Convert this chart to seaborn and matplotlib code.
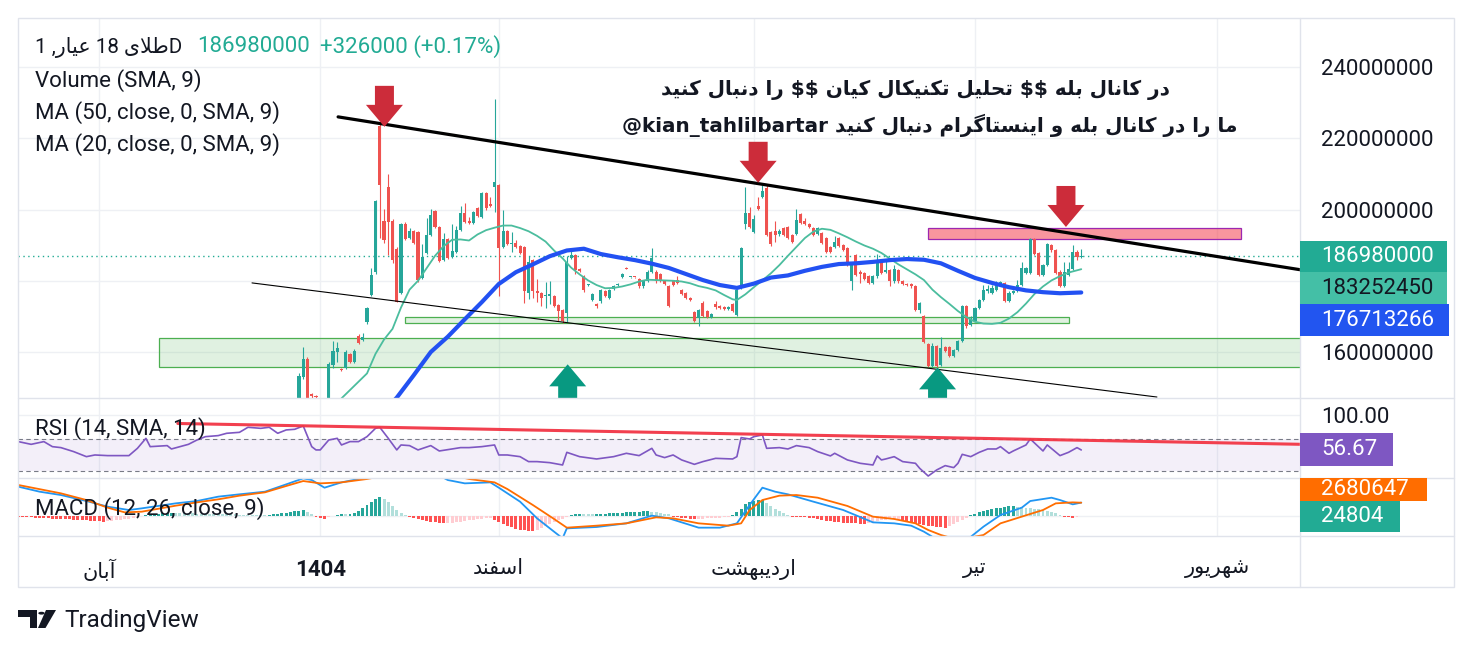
import numpy as np
import pandas as pd
import matplotlib
matplotlib.use("Agg")
import matplotlib.pyplot as plt
import seaborn as sns
from matplotlib.patches import Rectangle, Polygon, Circle
from matplotlib.lines import Line2D
from matplotlib.transforms import IdentityTransform, Bbox

# ------------------------------------------------------------------ data
# daily candles (values in millions), bar index 0 .. 184
opens = [145.0,153.1,158.1,148.2,147.8,147.0,145.0,144.5,156.4,160.1,
         155.2,155.5,159.4,157.3,164.6,163.4,168.3,176.0,182.5,223.3,
         196.8,206.3,196.8,189.0,176.6,196.0,192.0,194.0,193.7,180.8,
         187.8,192.9,199.6,195.1,185.9,191.8,186.7,188.1,194.3,199.1,
         196.8,196.3,200.4,197.9,204.7,201.6,206.3,206.9,189.4,194.0,
         190.4,190.7,189.8,189.4,176.7,185.9,177.2,176.5,175.6,175.8,
         175.8,173.2,171.8,171.0,186.5,187.1,183.3,181.2,178.8,174.5,
         173.5,174.2,177.0,175.3,177.7,178.8,181.0,183.7,181.0,181.0,
         180.5,178.4,180.0,182.6,182.6,181.9,180.0,178.6,179.8,180.3,
         177.5,176.5,175.1,171.1,169.5,173.9,171.5,169.8,173.5,172.8,
         172.6,172.1,173.4,170.4,177.9,196.0,199.1,193.8,201.0,203.6,
         206.0,193.8,194.0,193.0,194.8,195.2,192.9,193.2,198.8,196.8,
         195.9,194.8,193.2,193.4,192.0,189.4,189.6,192.0,190.1,189.1,
         179.8,187.3,182.6,182.1,181.4,179.5,181.2,185.9,182.4,183.0,
         179.8,183.0,180.0,179.1,179.1,178.6,171.8,170.0,162.3,156.0,
         161.7,156.4,161.5,161.5,158.9,160.6,163.2,173.0,167.6,168.8,
         172.3,174.6,177.0,176.7,177.3,179.1,179.3,174.4,176.5,177.2,
         178.9,182.1,182.3,191.7,187.9,181.7,184.5,190.1,188.7,182.6,
         178.6,181.7,183.3,188.2,186.654]
highs = [154.0,161.3,158.6,148.6,148.0,147.2,146.0,157.2,163.0,162.7,
         155.6,160.6,159.8,160.8,165.0,165.3,172.6,183.6,202.7,224.3,
         200.2,210.0,197.2,189.4,196.3,196.4,194.8,194.3,194.0,190.4,
         197.6,200.2,199.9,195.4,193.5,192.1,196.0,195.5,201.0,201.9,
         197.8,199.6,200.7,205.0,205.0,203.5,231.0,207.2,199.9,194.3,
         193.7,191.5,190.1,189.7,187.0,186.2,180.4,176.8,179.6,179.9,
         176.1,173.5,172.1,187.0,189.1,187.4,183.6,181.5,179.0,176.6,
         173.8,177.6,177.3,177.8,178.9,179.3,182.2,183.9,181.1,181.1,
         180.8,180.3,182.9,189.3,182.9,182.2,180.3,178.9,180.1,181.2,
         177.8,176.8,175.4,171.4,172.1,174.2,171.8,171.0,174.3,173.1,
         172.9,172.9,173.7,177.8,189.4,206.4,200.6,198.5,203.6,206.9,
         206.9,194.1,196.9,194.4,195.1,195.5,193.2,200.1,199.1,197.6,
         196.2,195.1,195.1,193.7,192.3,189.7,192.6,192.3,190.4,189.4,
         184.8,187.6,182.9,182.4,181.7,181.5,187.6,186.2,185.9,183.3,
         184.5,183.3,180.3,179.4,179.4,178.9,174.0,170.3,162.6,162.5,
         162.0,164.2,161.8,161.8,160.9,163.5,173.3,173.3,170.0,172.6,
         174.9,178.8,178.8,178.8,179.9,179.9,179.6,177.0,177.3,180.1,
         185.2,183.8,192.0,192.0,188.2,184.8,190.7,190.4,189.0,182.9,
         185.4,185.4,190.1,188.5,188.9]
lows = [143.5,152.5,144.0,147.0,146.8,144.5,143.8,144.0,155.5,157.3,
        154.6,155.3,157.0,157.0,162.2,163.0,168.0,175.8,182.0,192.0,
        190.5,187.3,185.0,174.0,176.3,191.5,191.8,190.3,179.7,180.5,
        187.5,192.6,194.8,185.3,185.6,186.1,186.4,187.8,194.0,196.2,
        195.8,196.0,197.9,197.6,199.8,200.7,199.3,175.6,189.1,190.1,
        188.2,189.3,187.4,173.9,175.0,175.3,174.0,173.0,172.3,173.4,
        172.7,168.8,168.2,168.5,186.2,181.9,182.4,176.9,178.6,174.2,
        172.4,173.9,175.5,175.0,177.4,178.6,180.8,183.2,180.9,180.9,
        178.1,178.1,179.7,182.3,179.5,179.7,178.8,172.6,178.4,179.1,
        175.9,174.8,174.3,168.3,167.2,169.7,169.5,169.5,172.2,172.0,
        171.8,171.8,171.1,170.1,177.6,194.6,194.9,193.5,199.8,203.3,
        192.6,189.8,191.0,192.7,192.6,191.7,190.7,192.9,195.9,195.7,
        194.8,192.6,192.9,190.3,187.7,187.8,189.3,189.5,188.4,184.2,
        177.3,181.4,179.5,180.2,179.0,179.2,180.9,181.8,182.1,178.5,
        179.5,179.5,178.8,178.4,178.1,171.5,171.0,162.4,155.8,155.7,
        155.5,156.1,160.1,158.6,158.6,160.3,162.9,166.8,167.3,168.5,
        172.0,174.3,176.7,176.4,177.0,178.8,174.1,174.1,176.2,176.9,
        178.6,181.8,182.0,187.2,181.4,181.4,184.2,188.2,182.0,178.3,
        178.3,181.4,183.0,185.8,186.3]
closes = [153.3,158.0,146.0,147.7,147.4,145.0,144.5,156.7,160.3,161.2,
          155.0,160.1,157.3,160.3,162.5,164.2,172.3,181.7,202.4,206.9,
          191.5,196.5,185.9,174.1,196.0,191.8,194.0,190.6,180.3,186.7,
          192.9,198.5,195.1,185.6,191.8,186.4,188.4,194.3,199.1,196.5,
          196.3,199.3,198.2,204.7,200.4,201.0,207.7,189.1,194.0,190.4,
          190.7,189.6,187.7,177.0,185.4,177.0,176.5,175.1,176.0,176.3,
          173.0,171.6,168.6,185.2,187.2,182.9,182.7,177.3,178.9,176.3,
          172.8,177.3,175.8,177.5,178.6,179.1,181.9,183.4,181.05,180.95,
          178.4,180.0,182.6,186.3,179.8,180.0,179.1,173.0,178.7,179.4,
          176.2,175.1,174.6,168.6,171.8,170.0,169.8,170.7,172.5,172.3,
          172.1,172.6,171.4,177.5,189.1,199.0,195.2,197.3,200.1,205.3,
          192.9,190.4,192.9,194.0,192.9,192.0,191.0,197.1,196.2,196.0,
          195.1,192.9,194.8,190.6,188.0,188.1,191.0,189.8,188.7,184.5,
          184.5,181.7,181.9,180.5,179.3,181.2,185.9,182.1,183.0,179.8,
          183.3,179.8,179.1,178.7,178.4,171.8,173.7,162.7,156.1,161.7,
          156.1,161.1,160.4,158.9,160.6,163.2,173.0,167.3,169.2,172.3,
          174.6,177.3,177.6,178.0,179.1,179.6,174.4,176.7,177.0,178.9,
          183.5,183.5,191.7,187.5,181.7,184.5,190.4,188.5,182.3,178.6,
          182.6,183.3,188.2,186.654,186.98]

# moving averages (bar index, value in millions)
ma50_bars = [17,20,23,27,31,35,39,43,47,51,55,59,63,67,71,75,79,83,87,91,
             95,99,103,107,111,115,119,123,127,131,135,139,143,147,151,155,159,163,167,171,
             175,179,184]
ma50_vals = [139.5,143.5,147.2,153.5,160.0,164.3,169.2,174.0,179.1,182.4,
             184.6,186.9,188.5,189.0,187.5,186.6,185.8,184.8,183.6,181.9,
             180.2,178.8,178.0,179.2,180.9,181.5,182.8,183.9,184.7,184.9,
             185.3,185.8,186.1,185.9,184.9,182.8,180.8,179.4,178.2,177.3,
             176.8,176.5,176.713266]
ma20_bars = [7,10,13,16,18,20,22,24,26,28,30,32,34,36,38,40,42,44,46,48,
             50,52,54,56,58,60,62,64,66,68,70,72,74,76,78,80,82,84,86,88,
             90,92,94,96,98,100,102,103,105,107,109,111,113,115,117,119,121,123,
             125,127,129,131,133,135,137,139,141,143,145,147,149,151,153,155,157,159,161,163,
             165,167,169,171,173,175,177,179,181,184]
ma20_vals = [142.0,147.0,150.5,154.0,159.5,163.5,166.5,172.5,177.5,180.0,
             183.5,187.0,189.7,191.5,191.6,191.3,193.0,194.2,194.9,195.5,
             195.5,194.8,193.9,192.6,191.0,188.5,186.3,183.7,181.8,180.1,
             178.8,177.9,178.0,178.4,179.0,179.8,180.3,180.2,180.1,180.0,
             179.8,179.3,178.5,178.0,177.3,176.0,174.8,174.6,
             176.2,178.2,180.1,182.1,184.4,187.0,189.5,192.0,193.8,194.6,
             194.3,193.3,192.2,191.0,189.9,189.0,187.8,186.2,184.6,183.2,
             181.8,180.2,177.5,175.4,173.5,171.5,169.8,168.5,168.0,167.9,
             168.2,169.4,171.2,173.6,176.3,178.4,180.1,181.3,182.3,183.25245]

# RSI(14)
rsi_bars = [-66,-63,-60,-58,-56,-53,-50,-48,-45,-40,
            -38,-36,-35,-31,-30,-26,-24,-22,-19,-17,
            -14,-12,-9,-7,-5,-3,-1,1,3,4,
            5,7,9,10,12,14,16,18,19,21,
            23,24,26,28,31,33,36,38,40,43,
            46,47,49,52,54,56,59,62,63,66,
            70,74,77,80,83,84,86,88,90,93,
            95,98,102,103,104,106,107,109,110,113,
            115,117,120,122,125,126,129,132,135,136,
            137,138,140,142,145,146,148,150,152,154,
            155,156,158,160,162,164,165,167,168,171,
            172,175,176,179,181,183,184]
rsi_vals = [67.1,63.7,67.1,60.8,59.6,54.6,48.3,50.4,49.6,49.6,
            58.7,71.2,60.8,62.1,57.9,63.7,69.1,73.3,74.6,77.5,
            78.7,85.0,83.7,85.0,77.5,81.7,82.5,86.7,60.8,56.7,
            56.7,69.1,71.2,62.9,67.1,67.1,73.3,83.7,85.0,71.2,
            56.7,62.9,62.1,56.7,62.1,55.4,57.9,59.6,59.6,60.8,
            62.9,50.4,50.4,48.3,42.1,42.1,40.8,37.9,53.7,48.3,
            45.4,48.3,52.5,49.6,58.7,50.4,47.1,50.4,44.2,38.7,
            42.1,46.2,45.4,48.3,72.1,70.4,73.3,75.4,58.7,59.6,
            57.9,62.1,59.6,54.6,49.2,52.5,44.2,40.0,37.9,49.2,
            44.2,45.4,48.3,42.1,40.0,33.7,24.1,31.7,37.1,34.6,
            40.0,51.2,48.3,53.7,57.9,57.9,60.8,52.5,55.4,62.9,
            70.4,55.4,62.9,49.6,53.7,59.6,56.67]

# MACD(12, 26, 9), values in millions
macd_bars = [-66,-61,-56,-50,-45,-40,-37,-29,-24,-19,
             -14,-8,-3,1,3,6,10,14,17,23,
             32,35,39,45,47,52,56,60,62,63,
             70,77,83,87,94,99,103,106,109,112,
             115,121,128,135,140,144,147,149,158,161,
             165,170,172,177,179,182,184]
macd_vals = [5.91,4.90,4.23,3.02,1.88,1.21,1.54,2.55,3.02,3.90,
             4.37,4.90,6.38,7.59,7.25,5.71,6.78,7.46,8.9,9.6,
             8.6,7.25,6.58,6.78,5.71,2.89,-0.47,-3.16,-4.5,-2.49,
             -2.22,-1.48,0.07,-0.47,-2.35,-2.35,-1.48,2.22,5.71,4.90,
             4.37,2.89,1.21,-1.28,-1.48,-1.95,-3.16,-4.2,-4.2,-2.15,
             0.2,1.68,3.02,3.69,3.22,2.35,2.705451]
signal_bars = [-66,-56,-50,-45,-41,-37,-29,-24,-19,-14,
               -8,-3,1,5,10,16,23,34,40,46,
               49,55,60,63,70,77,84,88,94,101,
               104,106,109,113,117,122,129,135,140,145,
               148,151,155,161,165,170,175,178,182,184]
signal_vals = [6.25,4.57,3.22,1.68,0.74,0.87,2.08,2.75,3.36,4.10,
               4.77,6.05,7.05,6.58,6.78,7.46,8.6,8.6,7.46,6.78,
               5.44,2.22,-0.60,-2.35,-1.95,-1.48,-0.27,-0.47,-1.48,-1.95,
               -1.48,1.21,3.22,4.10,4.23,3.69,2.02,-0.13,-0.60,-1.48,
               -2.82,-3.83,-4.8,-3.83,-1.48,-0.13,1.21,2.55,2.75,2.680647]
hist_first_bar = -66
hist_vals = [-0.15,-0.2,-0.25,-0.3,-0.35,-0.4,-0.45,-0.5,-0.55,-0.57,-0.6,-0.65,-0.7,-0.72,-0.75,-0.8,-0.85,
             -0.95,-1.05,-1.1,-1.12,-1.05,-1.0,-0.9,-0.8,-0.7,-0.55,-0.4,-0.25,
             0.1,0.2,0.3,0.4,0.5,0.55,0.6,0.62,
             0.6,0.58,0.56,0.54,0.52,0.5,0.48,0.46,0.44,0.42,0.4,0.38,0.36,0.34,0.32,0.3,0.28,0.26,0.24,0.22,0.2,0.18,
             0.3,0.4,0.5,0.6,0.7,0.85,1.0,1.1,1.2,
             0.8,0.4,
             -0.2,-0.5,-0.6,
             -0.3,0.1,0.3,0.5,0.45,0.5,0.6,
             1.0,1.6,2.2,2.9,3.5,3.9,
             3.4,2.8,2.0,1.3,0.7,0.3,
             -0.3,-0.5,-0.7,-0.9,-1.0,-1.15,-1.3,-1.4,-1.5,
             -1.45,-1.35,-1.25,-1.15,-1.0,-0.9,-0.8,-0.7,-0.6,-0.5,-0.45,
             -0.8,-1.2,-1.6,-2.0,-2.3,-2.6,-2.8,-2.9,-3.0,-3.05,
             -2.8,-2.5,-2.1,-1.7,-1.3,-0.9,-0.6,-0.3,
             0.2,0.35,0.5,0.45,0.4,0.35,
             0.4,0.45,0.5,0.55,0.6,0.65,0.7,0.75,0.8,0.85,0.9,0.95,1.0,
             0.9,0.8,0.65,0.5,0.35,
             -0.1,-0.25,-0.4,-0.5,-0.6,-0.65,
             -0.6,-0.55,-0.5,-0.45,-0.4,-0.35,-0.3,-0.2,
             0.3,0.8,1.5,
             2.4,2.9,3.1,3.2,3.25,
             2.6,2.0,1.5,1.0,0.6,0.25,
             -0.1,-0.2,-0.25,-0.3,-0.35,-0.4,
             -0.6,-0.8,-1.0,-1.1,-1.2,-1.3,-1.35,-1.4,-1.45,-1.5,-1.55,-1.6,
             -1.4,-1.2,-1.0,-0.9,-0.8,-0.7,-0.65,-0.6,
             -0.8,-1.0,-1.2,-1.4,-1.6,-1.8,-2.0,-2.1,-2.2,-2.3,-2.35,
             -2.0,-1.6,-1.2,-0.8,-0.4,
             0.2,0.5,0.8,1.0,1.2,1.4,1.55,
             1.7,1.85,1.95,2.0,
             1.9,1.8,1.7,1.6,1.5,1.35,1.2,1.0,0.8,0.55,
             0.3,-0.1,-0.3,-0.35,-0.3,
             0.024804]

# drawings (bar index, price in millions)
upper_trend_bars = [9.2, 235.5]
upper_trend_vals = [226.0, 183.1]
lower_trend_bars = [-11.05, 201.8]
lower_trend_vals = [179.4, 147.37]
rsi_trend_bars = [-28.5, 235.5]
rsi_trend_vals = [89.75, 63.75]
big_zone_bars = [-32.9, 236.0]
big_zone_vals = [155.7, 163.85]
thin_zone_bars = [24.9, 181.2]
thin_zone_vals = [168.2, 169.74]
pink_zone_bars = [147.97, 221.6]
pink_zone_vals = [191.63, 194.72]
down_arrow_bars = [20.1, 108.0, 180.4]
down_arrow_vals = [223.2, 207.5, 195.1]
up_arrow_bars = [63.2, 150.2]
up_arrow_vals = [156.55, 155.7]

price_grid = [160, 180, 200, 220, 240]
price_labels = [160, 200, 220, 240]
time_tick_bars = [-47, 5, 47, 107, 159, 216]
time_tick_words = ["آبان", "1404", "اسفند", "اردیبهشت", "تیر", "شهریور"]

# ------------------------------------------------------------------ Persian shaping helper
FORMS = {
    '\u0627': ('\uFE8D', '\uFE8E', None, None),
    '\u0622': ('\uFE81', '\uFE82', None, None),
    '\u0628': ('\uFE8F', '\uFE90', '\uFE91', '\uFE92'),
    '\u062A': ('\uFE95', '\uFE96', '\uFE97', '\uFE98'),
    '\u062D': ('\uFEA1', '\uFEA2', '\uFEA3', '\uFEA4'),
    '\u062F': ('\uFEA9', '\uFEAA', None, None),
    '\u0631': ('\uFEAD', '\uFEAE', None, None),
    '\u0633': ('\uFEB1', '\uFEB2', '\uFEB3', '\uFEB4'),
    '\u0634': ('\uFEB5', '\uFEB6', '\uFEB7', '\uFEB8'),
    '\u0637': ('\uFEC1', '\uFEC2', '\uFEC3', '\uFEC4'),
    '\u0639': ('\uFEC9', '\uFECA', '\uFECB', '\uFECC'),
    '\u0641': ('\uFED1', '\uFED2', '\uFED3', '\uFED4'),
    '\u0644': ('\uFEDD', '\uFEDE', '\uFEDF', '\uFEE0'),
    '\u0645': ('\uFEE1', '\uFEE2', '\uFEE3', '\uFEE4'),
    '\u0646': ('\uFEE5', '\uFEE6', '\uFEE7', '\uFEE8'),
    '\u0647': ('\uFEE9', '\uFEEA', '\uFEEB', '\uFEEC'),
    '\u0648': ('\uFEED', '\uFEEE', None, None),
    '\u06A9': ('\uFB8E', '\uFB8F', '\uFB90', '\uFB91'),
    '\u06AF': ('\uFB92', '\uFB93', '\uFB94', '\uFB95'),
    '\u06CC': ('\uFBFC', '\uFBFD', '\uFBFE', '\uFBFF'),
}


def _dual(ch):
    return ch in FORMS and FORMS[ch][2] is not None


def fa(s):
    """logical Persian text -> visual (left-to-right) presentation forms"""
    if not any(ch in FORMS for ch in s):
        return s
    out = []
    i, n = 0, len(s)
    while i < n:
        ch = s[i]
        if ch not in FORMS:
            out.append(ch)
            i += 1
            continue
        pj = i > 0 and _dual(s[i - 1])
        if ch == '\u0644' and i + 1 < n and s[i + 1] in ('\u0627', '\u0622'):
            lig = ('\uFEFB', '\uFEFC') if s[i + 1] == '\u0627' else ('\uFEF5', '\uFEF6')
            out.append(lig[1] if pj else lig[0])
            i += 2
            continue
        nj = _dual(ch) and i + 1 < n and s[i + 1] in FORMS
        iso, fin, ini, med = FORMS[ch]
        out.append(med if (pj and nj) else fin if pj else ini if nj else iso)
        i += 1
    return ''.join(reversed(out))


# ------------------------------------------------------------------ figure
W, H = 1473, 653
sns.set_theme(style="white")
plt.rcParams["font.family"] = ["Roboto", "DejaVu Sans"]
plt.rcParams["axes.unicode_minus"] = False
TXT = "#131722"
GRID = "#eef0f4"
FRAME = "#e0e3eb"
UP, DOWN = "#26a69a", "#ef5350"

fig = plt.figure(figsize=(W / 100, H / 100), dpi=100)
fig.patch.set_facecolor("white")


def fx(x):
    return x / W


def fy(y):
    return 1 - y / H


def add_ax(x0, y0, x1, y1):
    a = fig.add_axes([fx(x0), fy(y1), (x1 - x0) / W, (y1 - y0) / H])
    a.set_facecolor("none")
    for s in a.spines.values():
        s.set_visible(False)
    return a


PL, PR = 18, 1300
ax = add_ax(PL, 18, PR, 398)
ax_rsi = add_ax(PL, 398, PR, 478.3)
ax_macd = add_ax(PL, 478.3, PR, 535.7)
XMIN, XMAX = -66.09, 235.45

# grid
for a in (ax, ax_rsi, ax_macd):
    for b in time_tick_bars:
        a.axvline(b, color=GRID, lw=1, zorder=0)
for pv in price_grid:
    ax.axhline(pv, color=GRID, lw=1, zorder=0)
ax_rsi.axhline(100, color=GRID, lw=1, zorder=0)
ax_macd.axhline(0, color=GRID, lw=1, zorder=0)

# zones
ax.add_patch(Rectangle((big_zone_bars[0], big_zone_vals[0]), big_zone_bars[1] - big_zone_bars[0],
                       big_zone_vals[1] - big_zone_vals[0], fc=(76/255, 175/255, 80/255, 0.17),
                       ec="#4caf50", lw=0.9, zorder=1))
ax.add_patch(Rectangle((thin_zone_bars[0], thin_zone_vals[0]), thin_zone_bars[1] - thin_zone_bars[0],
                       thin_zone_vals[1] - thin_zone_vals[0], fc=(76/255, 175/255, 80/255, 0.17),
                       ec="#4caf50", lw=0.9, zorder=1))
ax.add_patch(Rectangle((pink_zone_bars[0], pink_zone_vals[0]), pink_zone_bars[1] - pink_zone_bars[0],
                       pink_zone_vals[1] - pink_zone_vals[0], fc=(242/255, 54/255, 69/255, 0.52),
                       ec="#9c27b0", lw=0.9, zorder=1))

# candles
o = np.array(opens); h = np.array(highs); l = np.array(lows); c = np.array(closes)
idx = np.arange(len(o))
col = np.where(c >= o, UP, DOWN)
ax.vlines(idx, l, h, colors=col, lw=0.8, zorder=3)
ax.bar(idx, np.maximum(np.abs(c - o), 0.3), bottom=np.minimum(o, c), width=0.72,
       color=col, linewidth=0, zorder=3)

# last price dotted line
ax.axhline(c[-1], color="#22ab94", lw=1, ls=(0, (1, 2.5)), zorder=2)

# moving averages
sns.lineplot(x=ma20_bars, y=ma20_vals, ax=ax, color="#4bbd9e", linewidth=1.3, zorder=4)
sns.lineplot(x=ma50_bars, y=ma50_vals, ax=ax, color="#2251f2", linewidth=3.0, zorder=4)

# trend lines
ax.plot(upper_trend_bars, upper_trend_vals, color="black", lw=2.3, zorder=5, solid_capstyle="round")
ax.plot(lower_trend_bars, lower_trend_vals, color="black", lw=0.8, zorder=5)

# RSI pane
ax_rsi.axhspan(30, 70, color="#7e57c2", alpha=0.09, lw=0, zorder=0)
ax_rsi.axhline(70, color="#787b86", lw=0.8, ls=(0, (4, 3)), zorder=1)
ax_rsi.axhline(30, color="#787b86", lw=0.8, ls=(0, (4, 3)), zorder=1)
sns.lineplot(x=rsi_bars, y=rsi_vals, ax=ax_rsi, color="#7e57c2", linewidth=1.2, zorder=3)
ax_rsi.plot(rsi_trend_bars, rsi_trend_vals, color="#f23645", lw=2.2, alpha=0.95, zorder=4)

# MACD pane
hv = np.array(hist_vals)
hb = np.arange(hist_first_bar, hist_first_bar + len(hv))
hcol = []
for k, v in enumerate(hv):
    prev = hv[k - 1] if k > 0 else 0.0
    if v >= 0:
        hcol.append("#26a69a" if v >= prev else "#b2dfdb")
    else:
        hcol.append("#ff5252" if v < prev else "#ffcdd2")
ax_macd.bar(hb, hv, width=0.7, color=hcol, linewidth=0, zorder=2)
sns.lineplot(x=macd_bars, y=macd_vals, ax=ax_macd, color="#2196f3", linewidth=1.3, zorder=3)
sns.lineplot(x=signal_bars, y=signal_vals, ax=ax_macd, color="#ff6d00", linewidth=1.3, zorder=3)

# limits / ticks
for a in (ax, ax_rsi, ax_macd):
    a.set_xlim(XMIN, XMAX)
    a.set_xlabel("")
    a.set_ylabel("")
    a.grid(False)
ax.set_ylim(147.1, 253.75)
ax_rsi.set_ylim(21.25, 121.6)
ax_macd.set_ylim(-3.97, 7.6)

ax.set_xticks([])
ax_rsi.set_xticks([])
ax.yaxis.tick_right()
ax.set_yticks(price_labels)
ax.set_yticklabels([f"{int(v * 1e6)}" for v in price_labels])
ax.tick_params(axis="y", length=0, pad=15, labelsize=16, labelcolor=TXT)
ax_rsi.yaxis.tick_right()
ax_rsi.set_yticks([100])
ax_rsi.set_yticklabels(["100.00"])
ax_rsi.tick_params(axis="y", length=0, pad=15, labelsize=16, labelcolor=TXT)
ax_macd.set_yticks([])
ax_macd.set_xticks(time_tick_bars)
ax_macd.set_xticklabels([fa(w) for w in time_tick_words])
ax_macd.tick_params(axis="x", length=0, pad=17, labelsize=16, labelcolor=TXT)
for lab in ax_macd.get_xticklabels():
    lab.set_fontfamily(["Roboto", "DejaVu Sans"])
    if lab.get_text() == "1404":
        lab.set_fontweight("bold")
    else:
        lab.set_fontsize(15)

# arrows (pixel-sized marks anchored at data points)
RED_ARROW, GREEN_ARROW = "#cc2c3a", "#089981"
for b, v in zip(down_arrow_bars, down_arrow_vals):
    tx, ty = ax.transData.transform((b, v))
    verts = [(tx, ty), (tx - 18.5, ty + 22), (tx - 9.5, ty + 22), (tx - 9.5, ty + 41),
             (tx + 9.5, ty + 41), (tx + 9.5, ty + 22), (tx + 18.5, ty + 22)]
    ax.add_patch(Polygon(verts, closed=True, fc=RED_ARROW, ec="none",
                         transform=IdentityTransform(), zorder=6))
for b, v in zip(up_arrow_bars, up_arrow_vals):
    tx, ty = ax.transData.transform((b, v))
    verts = [(tx, ty), (tx - 18.5, ty - 22), (tx - 9.5, ty - 22), (tx - 9.5, ty - 41),
             (tx + 9.5, ty - 41), (tx + 9.5, ty - 22), (tx + 18.5, ty - 22)]
    ax.add_patch(Polygon(verts, closed=True, fc=GREEN_ARROW, ec="none",
                         transform=IdentityTransform(), zorder=6))

# frame & separators
fig.add_artist(Rectangle((fx(18), fy(587)), (1454 - 18) / W, (587 - 18) / H, transform=fig.transFigure,
                         fill=False, ec=FRAME, lw=1))
fig.add_artist(Line2D([fx(1300), fx(1300)], [fy(18), fy(587)], transform=fig.transFigure, color=FRAME, lw=1))
for yy in (398, 478.3, 535.7):
    fig.add_artist(Line2D([fx(18), fx(1454)], [fy(yy), fy(yy)], transform=fig.transFigure, color=FRAME, lw=1))


# badges on the price scale
def badge(y0, y1, x1, text, bg, fg, clip=None):
    fig.add_artist(Rectangle((fx(1300), fy(y1)), (x1 - 1300) / W, (y1 - y0) / H, transform=fig.transFigure,
                             fc=bg, ec="none", zorder=2))
    t = fig.text(fx(1321), fy((y0 + y1) / 2), text, ha="left", va="center", fontsize=16, color=fg, zorder=3)
    if clip is not None:
        t.set_clip_box(clip)
        t.set_clip_on(True)


badge(240.7, 272.3, 1447, f"{round(c[-1] * 1e6)}", "#22ab94", "white")
badge(272.3, 304.0, 1447, f"{round(ma20_vals[-1] * 1e6)}", "#44bfa6", TXT)
badge(304.0, 336.0, 1449, f"{round(ma50_vals[-1] * 1e6)}", "#2255f0", "white")
badge(433.3, 465.7, 1393, f"{rsi_vals[-1]:.2f}", "#7e57c2", "white")
badge(478.3, 500.7, 1427, f"{round(signal_vals[-1] * 1e6)}", "#ff6d00", "white",
      clip=Bbox.from_extents(1300, H - 535.7, 1454, H - 478.3))
badge(500.7, 531.7, 1400, f"{round(hist_vals[-1] * 1e6)}", "#22ab94", "white")

# legends
chg = (c[-1] - c[-2]) * 1e6
pct = (c[-1] - c[-2]) / c[-2] * 100
fig.text(fx(35), fy(47), "1 ," + fa("عیار") + " 18 " + fa("طلای") + "D", ha="left", va="center",
         fontsize=14.8, color=TXT)
fig.text(fx(197), fy(47), f"{round(c[-1] * 1e6)}", ha="left", va="center", fontsize=16, color="#22ab94")
fig.text(fx(320), fy(47), f"+{round(chg)} (+{pct:.2f}%)", ha="left", va="center", fontsize=16, color="#22ab94")
fig.text(fx(35), fy(80.5), "Volume (SMA, 9)", ha="left", va="center", fontsize=16, color=TXT)
fig.text(fx(35), fy(113), "MA (50, close, 0, SMA, 9)", ha="left", va="center", fontsize=16, color=TXT)
fig.text(fx(35), fy(144.5), "MA (20, close, 0, SMA, 9)", ha="left", va="center", fontsize=16, color=TXT)
fig.text(fx(35), fy(428.5), "RSI (14, SMA, 14)", ha="left", va="center", fontsize=16, color=TXT, zorder=5)
fig.text(fx(35), fy(509), "MACD (12, 26, close, 9)", ha="left", va="center", fontsize=16, color=TXT, zorder=5)

# headline
fig.text(fx(915), fy(90), fa("در کانال بله $$ تحلیل تکنیکال کیان $$ را دنبال کنید"), ha="center",
         va="center", fontsize=14.4, fontweight="bold", color=TXT, family=["DejaVu Sans"], parse_math=False)
fig.text(fx(930), fy(125), "@kian_tahlilbartar " + fa("ما را در کانال بله و اینستاگرام دنبال کنید"),
         ha="center", va="center", fontsize=14.4, fontweight="bold", color=TXT, family=["DejaVu Sans"],
         parse_math=False)

# TradingView logo
fig.add_artist(Polygon([(fx(18), fy(610)), (fx(37), fy(610)), (fx(37), fy(628)), (fx(30), fy(628)),
                        (fx(30), fy(617)), (fx(18), fy(617))], closed=True, transform=fig.transFigure,
                       fc=TXT, ec="none"))
fig.add_artist(Circle((fx(41.5), fy(613.2)), 3.2 / W, transform=fig.transFigure, fc=TXT, ec="none"))
fig.add_artist(Polygon([(fx(46), fy(610)), (fx(56), fy(610)), (fx(45.5), fy(628)), (fx(38), fy(628))],
                       closed=True, transform=fig.transFigure, fc=TXT, ec="none"))
fig.text(fx(64), fy(620), "TradingView", ha="left", va="center", fontsize=17.5, color=TXT)

fig.savefig("out.png", dpi=100, facecolor="white")
